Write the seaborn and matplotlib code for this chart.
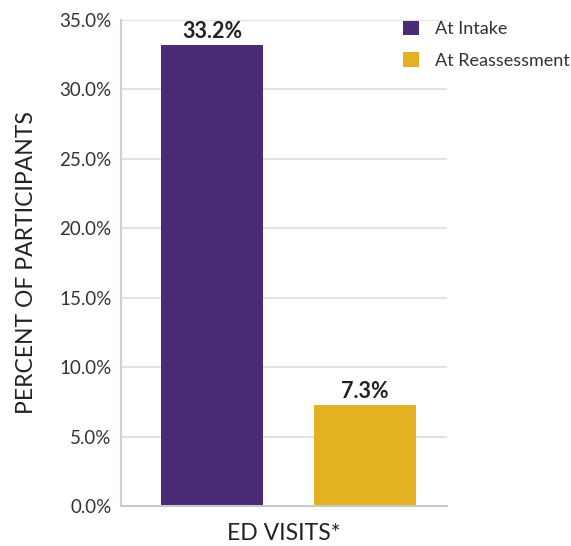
import matplotlib
matplotlib.use("Agg")
import matplotlib.pyplot as plt
import seaborn as sns
import pandas as pd
from matplotlib.patches import Patch

# Share of participants with ED visits
timepoints = ["At Intake", "At Reassessment"]
values = [33.2, 7.3]
colors = ["#4B2A76", "#E3B122"]
yticks = [0, 5, 10, 15, 20, 25, 30, 35]

df = pd.DataFrame({"timepoint": timepoints, "value": values})

sns.set_theme(style="white")
plt.rcParams["font.family"] = ["Lato", "DejaVu Sans"]

fig = plt.figure(figsize=(5.71, 5.46), dpi=100)
ax = fig.add_axes([0.212, 0.0733, 0.571, 0.890])

sns.barplot(data=df, x="timepoint", y="value", hue="timepoint",
            palette=colors, width=0.667, saturation=1, legend=False,
            linewidth=0, ax=ax)

ax.set_xlim(-0.595, 1.536)
ax.set_ylim(0, 35)
ax.set_yticks(yticks)
ax.set_yticklabels([f"{t:.1f}%" for t in yticks], fontsize=13.5, color="#333333")
ax.set_xticks([])
ax.yaxis.grid(True, color="#dddddd", linewidth=1.2)
ax.set_axisbelow(True)
ax.tick_params(axis="y", length=0, pad=7)

for side in ["top", "right"]:
    ax.spines[side].set_visible(False)
ax.spines["left"].set_color("#d0d0d0")
ax.spines["left"].set_linewidth(1.5)
ax.spines["bottom"].set_color("#c8c8c8")
ax.spines["bottom"].set_linewidth(1.5)

ax.set_xlabel("ED VISITS*", fontsize=16.5, color="#222222", labelpad=12)
ax.set_ylabel("PERCENT OF PARTICIPANTS", fontsize=16.5, color="#222222", labelpad=16)

for patch, v in zip(ax.patches, values):
    ax.annotate(f"{v:.1f}%", (patch.get_x() + patch.get_width() / 2, v),
                xytext=(0, 2), textcoords="offset points",
                ha="center", va="bottom", fontsize=15.5, fontweight="bold",
                color="#222222")

handles = [Patch(facecolor=c, edgecolor="none") for c in colors]
fig.legend(handles, timepoints, loc="upper left", bbox_to_anchor=(0.694, 0.975),
           frameon=False, fontsize=13, handlelength=0.85, handleheight=0.85,
           handletextpad=0.9, labelspacing=0.82, labelcolor="#333333",
           borderaxespad=0)

fig.savefig("out.png", dpi=100)
